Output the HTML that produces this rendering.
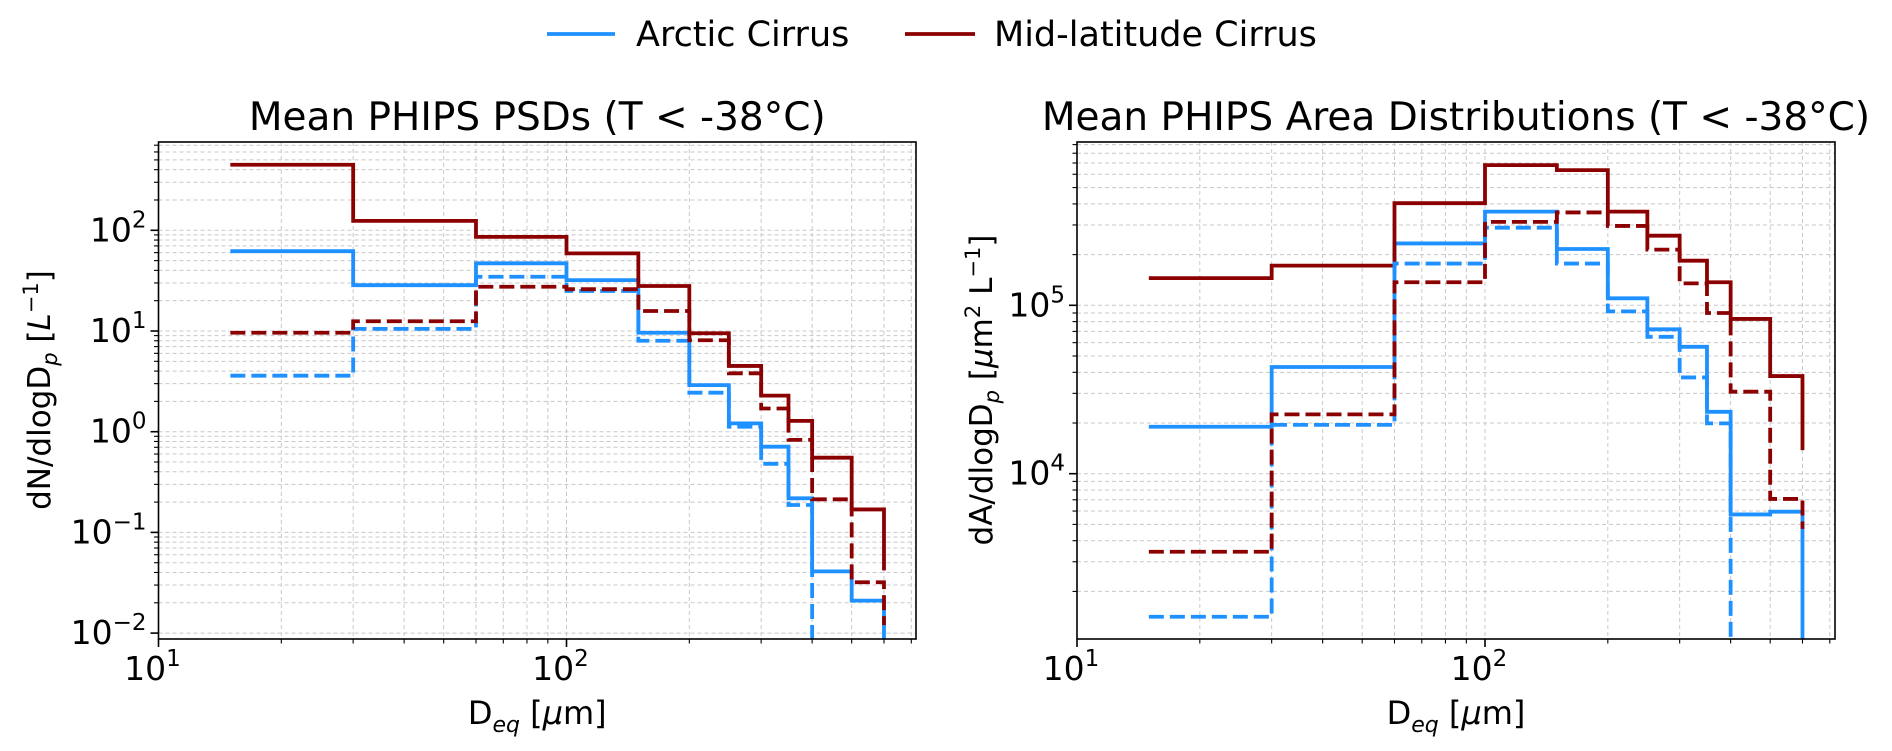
<!DOCTYPE html>
<html><head><meta charset="utf-8">
<style>
html,body{margin:0;padding:0;background:#fff;}
svg{display:block;font-family:"DejaVu Sans","Liberation Sans",sans-serif;}
</style></head>
<body>
<svg id="fig" width="1892" height="751" viewBox="0 0 1892 751" xmlns="http://www.w3.org/2000/svg">
<g id="legend">
  <g>
    <line x1="547" y1="34" x2="615" y2="34" stroke="#1E90FF" stroke-width="3.8"/>
    <text x="636" y="46" font-size="35" fill="#000">Arctic Cirrus</text>
  </g>
  <g>
    <line x1="905" y1="34" x2="975" y2="34" stroke="#8B0000" stroke-width="3.8"/>
    <text x="994" y="46" font-size="35" fill="#000">Mid-latitude Cirrus</text>
  </g>
</g>
<g id="left"></g>
<g id="right"></g>
</svg>
<script>
// shared bin edges (um)
const binEdges = [15, 30, 60, 100, 150, 200, 250, 300, 350, 400, 500, 600];
// Left panel: dN/dlogDp [L^-1]
const psdArcticSolid = [62, 28.5, 47, 32, 9.6, 2.9, 1.21, 0.71, 0.218, 0.041, 0.021];
const psdArcticSolidEnd = 0;
const psdArcticDashed = [3.6, 10.5, 34.6, 25, 8.0, 2.44, 1.12, 0.48, 0.187, 0, 0];
const psdArcticDashedEnd = 0;
const psdMidSolid = [448, 124, 86, 59, 28, 9.5, 4.5, 2.28, 1.28, 0.552, 0.169];
const psdMidSolidEnd = 0.042;
const psdMidDashed = [9.6, 12.5, 27.5, 26, 15.8, 8.1, 3.8, 1.7, 0.83, 0.213, 0.032];
const psdMidDashedEnd = 0.012;
const psdYTicks = [-2, -1, 0, 1, 2];
// Right panel: dA/dlogDp [um^2 L^-1]
const areaArcticSolid = [19000, 43000, 233000, 360000, 216000, 110000, 72000, 56700, 23300, 5730, 5950];
const areaArcticSolidEnd = 0;
const areaArcticDashed = [1415, 19500, 177000, 289000, 177000, 92000, 65000, 37300, 19900, 0, 0];
const areaArcticDashedEnd = 0;
const areaMidSolid = [145000, 172000, 404000, 680000, 635000, 360000, 259000, 184000, 137000, 83000, 38000];
const areaMidSolidEnd = 13800;
const areaMidDashed = [3440, 22500, 137000, 313000, 356000, 296000, 214000, 135000, 90000, 30700, 7080];
const areaMidDashedEnd = 4700;
const areaYTicks = [4, 5];
const xTicks = [1, 2];

const NS = "http://www.w3.org/2000/svg";
function mk(tag, attrs, parent) {
  const e = document.createElementNS(NS, tag);
  for (const k in attrs) e.setAttribute(k, attrs[k]);
  if (parent) parent.appendChild(e);
  return e;
}
const BLUE = "#1E90FF", RED = "#8B0000";

function panel(cfg) {
  const g = document.getElementById(cfg.id);
  const L = cfg.left, R = cfg.right, T = 142, B = 639;
  const D = 408;
  const xs = v => L + (Math.log10(v) - 1) * D;
  const ys = v => v > 0 ? cfg.y0 - (Math.log10(v) - cfg.yl0) * cfg.yd : B + 30;
  const clipId = cfg.id + "-clip";
  const defs = mk("defs", {}, g);
  const cp = mk("clipPath", { id: clipId }, defs);
  mk("rect", { x: L, y: T, width: R - L, height: B - T }, cp);
  const grid = mk("g", { "stroke": "#c8c8c8", "stroke-width": 1, "stroke-dasharray": "4,3", "clip-path": "url(#" + clipId + ")" }, g);
  
  
  const ticks = mk("g", { stroke: "#000", "stroke-width": 1.2 }, g);
  
  
  for (let dec = 1; dec <= 2; dec++) {
    for (let m = 1; m <= 9; m++) {
      const v = m * Math.pow(10, dec);
      const x = xs(v);
      if (x < L - 0.5 || x > R + 0.5) continue;
      mk("line", { x1: x, y1: T, x2: x, y2: B }, grid);
      mk("line", { x1: x, y1: B, x2: x, y2: B + (m === 1 ? 8 : 4.5), "stroke-width": m === 1 ? 1.6 : 1.1 }, ticks);
    }
  }
  for (let dec = cfg.yl0 - 4; dec <= cfg.yl0 + 3; dec++) {
    for (let m = 1; m <= 9; m++) {
      const v = m * Math.pow(10, dec);
      const y = ys(v);
      if (y < T - 0.5 || y > B + 0.5) continue;
      mk("line", { x1: L, y1: y, x2: R, y2: y }, grid);
      mk("line", { x1: L, y1: y, x2: L - (m === 1 ? 8 : 4.5), y2: y, "stroke-width": m === 1 ? 1.6 : 1.1 }, ticks);
    }
  }
  xTicks.forEach(p => {
    const t = mk("text", { x: xs(Math.pow(10, p)) - 6, y: 680, "font-size": 33, "text-anchor": "middle" }, g);
    
    
    t.textContent = "10";
    const s = mk("tspan", { dy: -14, "font-size": 23 }, t); s.textContent = String(p);
  });
  cfg.yticks.forEach(p => {
    const y = ys(Math.pow(10, p));
    const t = mk("text", { x: L - 12, y: y + 11, "font-size": 33, "text-anchor": "end" }, g);
    
    
    t.textContent = "10";
    const s = mk("tspan", { dy: -14, "font-size": 23 }, t); s.textContent = p < 0 ? "\u2212" + (-p) : String(p);
  });
  const series = [
    [cfg.data[0], cfg.ends[0], BLUE, null, "arctic-solid"],
    [cfg.data[1], cfg.ends[1], RED, null, "midlatitude-solid"],
    [cfg.data[2], cfg.ends[2], BLUE, "15,6", "arctic-dashed"],
    [cfg.data[3], cfg.ends[3], RED, "15,6", "midlatitude-dashed"]
  ];
  series.forEach(([vals, end, col, dash, nm]) => {
    let d = "M" + xs(binEdges[0]) + "," + ys(vals[0]);
    for (let i = 0; i < vals.length; i++) {
      d += " H" + xs(binEdges[i + 1]);
      const nv = i + 1 < vals.length ? vals[i + 1] : end;
      d += " V" + ys(nv);
    }
    const p = mk("path", { d: d, fill: "none", stroke: col, "stroke-width": 3.8, "clip-path": "url(#" + clipId + ")" }, g);
    if (dash) p.setAttribute("stroke-dasharray", dash);
    
    
  });
  const fr = mk("rect", { x: L, y: T, width: R - L, height: B - T, fill: "none", stroke: "#000", "stroke-width": 1.6 }, g);
  
  
  const tt = mk("text", { x: (L + R) / 2, y: 130, "font-size": 39, "text-anchor": "middle" }, g);
  
  
  tt.textContent = cfg.title;
  const xl = mk("text", { x: (L + R) / 2, y: 724, "font-size": 32, "text-anchor": "middle" }, g);
  
  
  xl.innerHTML = 'D<tspan font-size="22" dy="8" font-style="italic">eq</tspan><tspan dy="-8"> [</tspan><tspan font-style="italic">μ</tspan>m]';
  const yl = mk("text", { x: 0, y: 0, "font-size": 31, "text-anchor": "middle", transform: "translate(" + cfg.ylx + ",390) rotate(-90)" }, g);
  
  
  yl.innerHTML = cfg.ylabel;
}

panel({ id: "left", left: 158.5, right: 916, y0: 230.3, yl0: 2, yd: 100.7, yticks: psdYTicks,
  data: [psdArcticSolid, psdMidSolid, psdArcticDashed, psdMidDashed],
  ends: [psdArcticSolidEnd, psdMidSolidEnd, psdArcticDashedEnd, psdMidDashedEnd],
  title: "Mean PHIPS PSDs (T < -38°C)", ylx: 50,
  ylabel: 'dN/dlogD<tspan font-size="21" dy="7" font-style="italic">p</tspan><tspan dy="-7"> [</tspan><tspan font-style="italic">L</tspan><tspan font-size="21" dy="-12">−1</tspan><tspan dy="12">]</tspan>' });
panel({ id: "right", left: 1077, right: 1835, y0: 305.3, yl0: 5, yd: 168.4, yticks: areaYTicks,
  data: [areaArcticSolid, areaMidSolid, areaArcticDashed, areaMidDashed],
  ends: [areaArcticSolidEnd, areaMidSolidEnd, areaArcticDashedEnd, areaMidDashedEnd],
  title: "Mean PHIPS Area Distributions (T < -38°C)", ylx: 992,
  ylabel: 'dA/dlogD<tspan font-size="21" dy="7" font-style="italic">p</tspan><tspan dy="-7"> [</tspan><tspan font-style="italic">μ</tspan>m<tspan font-size="21" dy="-12">2</tspan><tspan dy="12"> L</tspan><tspan font-size="21" dy="-12">−1</tspan><tspan dy="12">]</tspan>' });
</script>
</body></html>
